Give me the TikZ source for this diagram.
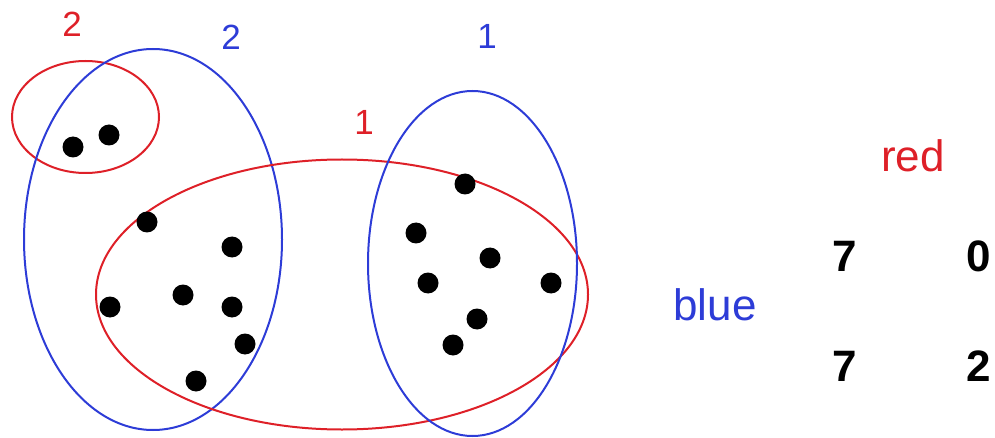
\documentclass[tikz,border=0pt]{standalone}
\usepackage{fontspec}
\setmainfont{Liberation Sans}
\definecolor{myred}{RGB}{222,32,40}
\definecolor{myblue}{RGB}{45,60,215}
\begin{document}
\begin{tikzpicture}[x=1pt,y=-1pt,
  redring/.style={draw=myred,line width=2pt},
  bluering/.style={draw=myblue,line width=2pt},
  dot/.style={circle,fill=black,inner sep=0pt,minimum size=21pt},
  lab/.style={inner sep=0pt,font=\fontsize{35}{40}\selectfont},
  big/.style={inner sep=0pt,font=\fontsize{44}{50}\selectfont},
  num/.style={inner sep=0pt,font=\fontsize{44}{50}\selectfont\bfseries}]
\useasboundingbox (0,0) rectangle (995,438);
% ellipses
\draw[redring] (85.5,117) ellipse [x radius=73.5pt, y radius=56pt];
\draw[bluering] (153,239.5) ellipse [x radius=129pt, y radius=190.5pt];
\draw[redring] (342,294.5) ellipse [x radius=246pt, y radius=135pt];
\draw[bluering] (472.5,263.5) ellipse [x radius=104.5pt, y radius=172.5pt];
% dots
\node[dot] (d1) at (73,147) {};
\node[dot] (d2) at (109,135) {};
\node[dot] (d3) at (147,222) {};
\node[dot] (d4) at (232,247) {};
\node[dot] (d5) at (183,295) {};
\node[dot] (d6) at (110,307) {};
\node[dot] (d7) at (232,307) {};
\node[dot] (d8) at (245,344) {};
\node[dot] (d9) at (196,381) {};
\node[dot] (e1) at (465,184) {};
\node[dot] (e2) at (416,233) {};
\node[dot] (e3) at (490,258) {};
\node[dot] (e4) at (428,283) {};
\node[dot] (e5) at (551,283) {};
\node[dot] (e6) at (477,319) {};
\node[dot] (e7) at (453,345) {};
% labels
\node[lab,text=myred] (lr2) at (72,24.5) {2};
\node[lab,text=myblue] (lb2) at (231,37) {2};
\node[lab,text=myred] (lr1) at (364,122) {1};
\node[lab,text=myblue] (lb1) at (487,36) {1};
\node[big,text=myred] (tred) at (913,156) {red};
\node[big,text=myblue] (tblue) at (715,305) {blue};
\node[num] (n1) at (845,256) {7};
\node[num] (n2) at (979,256) {0};
\node[num] (n3) at (845,366) {7};
\node[num] (n4) at (979,366) {2};
\end{tikzpicture}
\end{document}
